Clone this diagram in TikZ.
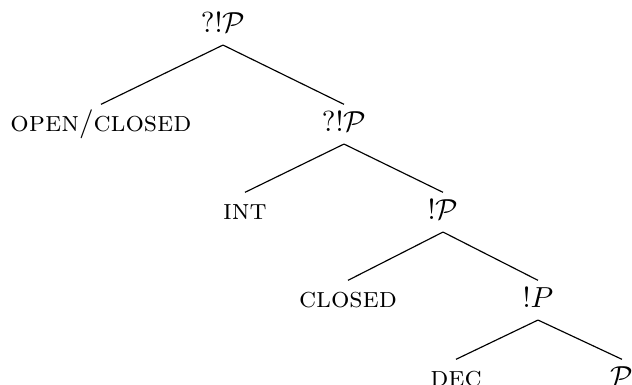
\documentclass[tikz,border=0pt]{standalone}
\usepackage{tikz}
\usetikzlibrary{positioning}
\tikzstyle{lbl} = [anchor=base, text height=5.7pt, text depth=1pt, inner xsep=0pt, inner ysep=3.3pt]
\tikzstyle{edge} = [thin]

\begin{document}
\begin{tikzpicture}[x=0.345pt, y=-0.345pt]
				\useasboundingbox (0,0) rectangle (632,385);
				\node (root) [lbl] at (223,32) {$?!\mathcal{P}$};
				\node (openclosed) [lbl] at (101,131) {\textsc{open}/\textsc{closed}};
				\node (qbang) [lbl] at (344,131) {$?!\mathcal{P}$};
				\node (int) [lbl] at (245,219) {\textsc{int}};
				\node (bang) [lbl] at (443,219) {$!\mathcal{P}$};
				\node (closed) [lbl] at (348,307) {\textsc{closed}};
				\node (bangp) [lbl] at (538,307) {$!P$};
				\node (dec) [lbl] at (456,386) {\textsc{dec}};
				\node (pow) [lbl] at (622,386) {$\mathcal{P}$};
				\draw[edge] (root.south) -- (openclosed.north);
				\draw[edge] (root.south) -- (qbang.north);
				\draw[edge] (qbang.south) -- (int.north);
				\draw[edge] (qbang.south) -- (bang.north);
				\draw[edge] (bang.south) -- (closed.north);
				\draw[edge] (bang.south) -- (bangp.north);
				\draw[edge] (bangp.south) -- (dec.north);
				\draw[edge] (bangp.south) -- (pow.north);
			\end{tikzpicture}
\end{document}
